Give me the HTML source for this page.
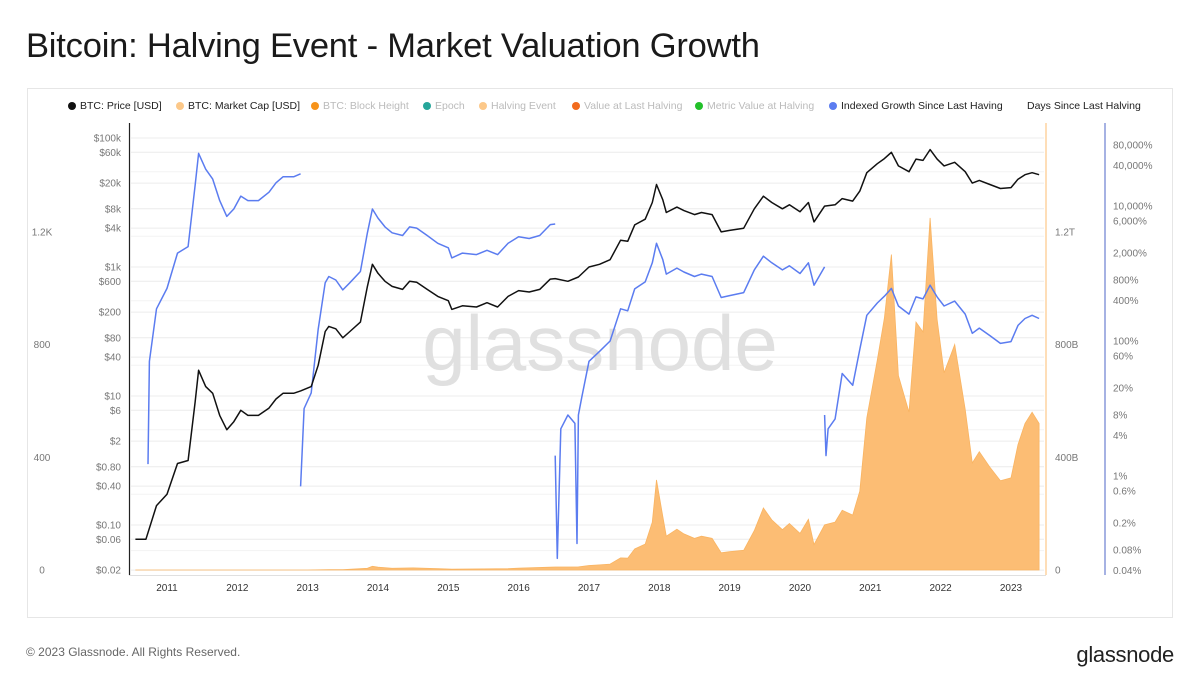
<!DOCTYPE html>
<html><head><meta charset="utf-8">
<style>
body{margin:0;background:#fff;font-family:"Liberation Sans",sans-serif;}
#wrap{position:relative;width:1200px;height:691px;overflow:hidden;}
h1{position:absolute;left:26px;top:26px;margin:0;font-size:34.5px;font-weight:normal;color:#1a1a1a;letter-spacing:-0.2px;line-height:40px;}
#frame{position:absolute;left:27px;top:88px;width:1146px;height:530px;border:1px solid #e6e6e6;box-sizing:border-box;}
.leg{position:absolute;top:100px;font-size:10.5px;white-space:nowrap;}
.leg i{display:inline-block;width:8px;height:8px;border-radius:50%;margin-right:4px;vertical-align:-0.5px;}
#foot{position:absolute;left:26px;top:645px;font-size:12px;color:#666;}
#logo{position:absolute;right:26px;top:642px;font-size:22px;color:#222;letter-spacing:-0.3px;}
svg{position:absolute;left:0;top:0;}
svg text{font-family:"Liberation Sans",sans-serif;font-size:10px;fill:#777;}
</style></head><body>
<div id="wrap">
<h1>Bitcoin: Halving Event - Market Valuation Growth</h1>
<div id="frame"></div>
<div class="leg" style="left:68px;color:#222"><i style="background:#111"></i>BTC: Price [USD]</div>
<div class="leg" style="left:176px;color:#222"><i style="background:#fcc889"></i>BTC: Market Cap [USD]</div>
<div class="leg" style="left:311px;color:#bbb"><i style="background:#f7931a"></i>BTC: Block Height</div>
<div class="leg" style="left:423px;color:#bbb"><i style="background:#26a69a"></i>Epoch</div>
<div class="leg" style="left:479px;color:#bbb"><i style="background:#fcc889"></i>Halving Event</div>
<div class="leg" style="left:572px;color:#bbb"><i style="background:#f26b1d"></i>Value at Last Halving</div>
<div class="leg" style="left:695px;color:#bbb"><i style="background:#22c02a"></i>Metric Value at Halving</div>
<div class="leg" style="left:829px;color:#222"><i style="background:#5b7cf0"></i>Indexed Growth Since Last Having</div>
<div class="leg" style="left:1027px;color:#222">Days Since Last Halving</div>
<svg id="chart" width="1200" height="691"></svg>
<div id="foot">© 2023 Glassnode. All Rights Reserved.</div>
<div id="logo">glassnode</div>
</div>
<script>
const priceTicks=[100000,60000,20000,8000,4000,1000,600,200,80,40,10,6,2,0.8,0.4,0.1,0.06,0.02];
const priceTickLabels=["$100k","$60k","$20k","$8k","$4k","$1k","$600","$200","$80","$40","$10","$6","$2","$0.80","$0.40","$0.10","$0.06","$0.02"];
const growthTicks=[80000,40000,10000,6000,2000,800,400,100,60,20,8,4,1,0.6,0.2,0.08,0.04];
const growthTickLabels=["80,000%","40,000%","10,000%","6,000%","2,000%","800%","400%","100%","60%","20%","8%","4%","1%","0.6%","0.2%","0.08%","0.04%"];
const capTicks=[0,400,800,1200];
const capTickLabels=["0","400B","800B","1.2T"];
const dayTicks=[0,400,800,1200];
const dayTickLabels=["0","400","800","1.2K"];
const years=[2011,2012,2013,2014,2015,2016,2017,2018,2019,2020,2021,2022,2023];
const priceT=[2010.55,2010.7,2010.85,2011.0,2011.15,2011.3,2011.4,2011.45,2011.55,2011.65,2011.75,2011.85,2011.95,2012.05,2012.15,2012.3,2012.45,2012.55,2012.65,2012.8,2012.9,2013.05,2013.15,2013.25,2013.3,2013.4,2013.5,2013.6,2013.75,2013.85,2013.92,2014.0,2014.1,2014.2,2014.35,2014.45,2014.55,2014.7,2014.85,2015.0,2015.05,2015.2,2015.4,2015.55,2015.7,2015.85,2016.0,2016.15,2016.3,2016.45,2016.52,2016.7,2016.85,2017.0,2017.15,2017.3,2017.45,2017.55,2017.65,2017.8,2017.9,2017.96,2018.05,2018.1,2018.25,2018.35,2018.5,2018.6,2018.75,2018.88,2019.0,2019.2,2019.35,2019.48,2019.6,2019.75,2019.85,2020.0,2020.12,2020.2,2020.35,2020.5,2020.6,2020.75,2020.85,2020.95,2021.1,2021.2,2021.3,2021.4,2021.55,2021.65,2021.75,2021.85,2021.95,2022.05,2022.2,2022.35,2022.45,2022.55,2022.7,2022.85,2023.0,2023.1,2023.2,2023.3,2023.4];
const priceV=[0.06,0.06,0.2,0.3,0.9,1,8,25,14,11,5,3,4,6,5,5,6.5,9,11,11,12,14,30,100,120,110,80,100,140,500,1100,800,600,500,450,600,580,450,350,300,220,250,240,280,240,350,430,410,450,650,660,600,700,1000,1100,1300,2600,2500,4500,5500,10000,19000,11000,7000,8500,7500,6500,7000,6500,3500,3700,4000,8000,12500,10000,8000,9200,7200,10000,5000,8800,9200,11500,10500,15000,29000,40000,48000,60000,37000,30000,47000,45000,66000,47000,37000,42000,30000,20000,22000,19000,16500,17000,23000,27000,29000,27000];
const capT=[2010.55,2013.0,2013.3,2013.5,2013.85,2013.92,2014.0,2014.2,2014.5,2014.85,2015.05,2015.5,2015.85,2016.0,2016.45,2016.52,2016.85,2017.0,2017.15,2017.3,2017.45,2017.55,2017.65,2017.8,2017.9,2017.96,2018.05,2018.1,2018.25,2018.35,2018.5,2018.6,2018.75,2018.88,2019.0,2019.2,2019.35,2019.48,2019.6,2019.75,2019.85,2020.0,2020.12,2020.2,2020.35,2020.5,2020.6,2020.75,2020.85,2020.95,2021.1,2021.2,2021.3,2021.4,2021.55,2021.65,2021.75,2021.85,2021.95,2022.05,2022.2,2022.35,2022.45,2022.55,2022.7,2022.85,2023.0,2023.1,2023.2,2023.3,2023.4];
const capV=[0,0.15,1.3,1,6,13,10,6,7.5,4.6,3,4,5,6.5,10,10.5,11,16,18,21,43,42,75,92,170,320,190,120,145,128,112,120,112,61,65,70,140,220,178,143,165,130,180,90,160,170,212,195,280,540,745,895,1120,690,560,880,845,1250,890,700,800,570,380,420,365,317,327,445,520,560,520];
const g1T=[2010.73,2010.75,2010.85,2011.0,2011.15,2011.3,2011.4,2011.45,2011.55,2011.65,2011.75,2011.85,2011.95,2012.05,2012.15,2012.3,2012.45,2012.55,2012.65,2012.8,2012.9];
const g1V=[1.5,50,300,600,2000,2500,20000,60000,35000,25000,12000,7000,9000,14000,12000,12000,16000,22000,27000,27000,30000];
const g2T=[2012.9,2012.95,2013.05,2013.15,2013.25,2013.3,2013.4,2013.5,2013.6,2013.75,2013.85,2013.92,2014.0,2014.1,2014.2,2014.35,2014.45,2014.55,2014.7,2014.85,2015.0,2015.05,2015.2,2015.4,2015.55,2015.7,2015.85,2016.0,2016.15,2016.3,2016.45,2016.52];
const g2V=[0.7,10,17,150,730,900,800,570,730,1070,4000,9000,6600,4900,4000,3650,4900,4700,3650,2800,2400,1700,2000,1900,2200,1900,2800,3500,3300,3650,5300,5400];
const g3T=[2016.52,2016.55,2016.6,2016.7,2016.8,2016.83,2016.85,2016.9,2017.0,2017.15,2017.3,2017.45,2017.55,2017.65,2017.8,2017.9,2017.96,2018.05,2018.1,2018.25,2018.35,2018.5,2018.6,2018.75,2018.88,2019.0,2019.2,2019.35,2019.48,2019.6,2019.75,2019.85,2020.0,2020.12,2020.2,2020.35];
const g3V=[2,0.06,5,8,6,0.1,8,15,50,70,100,300,280,590,750,1440,2800,1600,980,1200,1050,900,980,900,440,470,520,1130,1800,1440,1130,1300,1000,1440,670,1250];
const g4T=[2020.35,2020.37,2020.4,2020.5,2020.6,2020.75,2020.85,2020.95,2021.1,2021.2,2021.3,2021.4,2021.55,2021.65,2021.75,2021.85,2021.95,2022.05,2022.2,2022.35,2022.45,2022.55,2022.7,2022.85,2023.0,2023.1,2023.2,2023.3,2023.4];
const g4V=[8,2,5,7,33,22,75,240,365,460,600,330,250,450,420,670,450,330,390,250,130,155,120,92,98,170,215,240,215];

const svg=document.getElementById('chart');
const NS='http://www.w3.org/2000/svg';
function X(t){return 167+(t-2011)*70.33;}
function YP(v){return 138+(5-Math.log10(v))*64.5;}
function YG(v){return 145+(Math.log10(80000)-Math.log10(v))*67.5;}
function YC(v){return 570-v*0.2817;}
function mk(tag,attrs){const e=document.createElementNS(NS,tag);for(const k in attrs)e.setAttribute(k,attrs[k]);svg.appendChild(e);return e;}
priceTicks.forEach((v,i)=>{const g=mk('line',{x1:131,x2:1044,y1:YP(v),y2:YP(v),stroke:'#ececec','stroke-width':1});


const t=mk('text',{x:121,y:YP(v)+3.5,'text-anchor':'end'});t.textContent=priceTickLabels[i];

});
[30000,3000,300,30,3,0.3,0.04].forEach(v=>{const g=mk('line',{x1:131,x2:1044,y1:YP(v),y2:YP(v),stroke:'#f3f3f3','stroke-width':1});

});
const wm=mk('text',{x:600,y:370,'text-anchor':'middle',style:'font-size:78px;fill:#e0e0e0;font-weight:normal'});wm.textContent='glassnode';


let d='M'+X(capT[0])+','+YC(0);
capT.forEach((t,i)=>{d+='L'+X(t).toFixed(1)+','+YC(capV[i]).toFixed(1);});
d+='L'+X(capT[capT.length-1])+','+YC(0)+'Z';
const area=mk('path',{d:d,fill:'#fcbd74',stroke:'#f9b462','stroke-width':0.8});


function line(T,V,Y,col,name){let p='';T.forEach((t,i)=>{p+=(i?'L':'M')+X(t).toFixed(1)+','+Y(V[i]).toFixed(1);});
const e=mk('path',{d:p,fill:'none',stroke:col,'stroke-width':1.5,'stroke-linejoin':'round'});

}
line(g1T,g1V,YG,'#5b7cf0','growth-line-epoch1');
line(g2T,g2V,YG,'#5b7cf0','growth-line-epoch2');
line(g3T,g3V,YG,'#5b7cf0','growth-line-epoch3');
line(g4T,g4V,YG,'#5b7cf0','growth-line-epoch4');
line(priceT,priceV,YP,'#111','price-line');
const a1=mk('line',{x1:129.5,x2:129.5,y1:123,y2:575,stroke:'#222','stroke-width':1.2});


const a2=mk('line',{x1:1046,x2:1046,y1:123,y2:575,stroke:'#fcc889','stroke-width':1.2});


const a3=mk('line',{x1:1105,x2:1105,y1:123,y2:575,stroke:'#6b7fd0','stroke-width':1.2});


const a4=mk('line',{x1:129,x2:1046,y1:575.5,y2:575.5,stroke:'#e0e0e0','stroke-width':1});


growthTicks.forEach((v,i)=>{const t=mk('text',{x:1113,y:YG(v)+3.5});t.textContent=growthTickLabels[i];

});
capTicks.forEach((v,i)=>{const t=mk('text',{x:1055,y:YC(v)+3.5});t.textContent=capTickLabels[i];

});
dayTicks.forEach((v,i)=>{const t=mk('text',{x:42,y:YC(v)+3.5,'text-anchor':'middle'});t.textContent=dayTickLabels[i];

});
years.forEach(y=>{const t=mk('text',{x:X(y),y:591,'text-anchor':'middle',style:'fill:#333'});t.textContent=y;

});
</script>
</body></html>
